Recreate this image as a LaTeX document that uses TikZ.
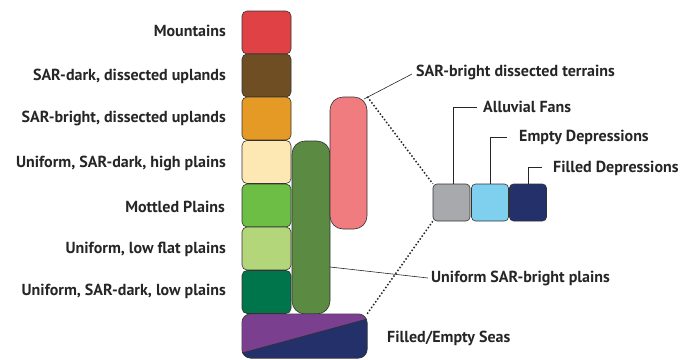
\documentclass[tikz,border=0pt]{standalone}
\usepackage{fontspec}
\setmainfont{PT Sans}
\begin{document}
\begin{tikzpicture}[x=1pt,y=-1pt,
  box/.style={draw=black!80,line width=0.6pt,rounded corners=5pt,minimum width=49pt,minimum height=43pt,inner sep=0pt},
  tall/.style={draw=black!80,line width=0.6pt,rounded corners=13pt,inner sep=0pt},
  sq/.style={draw=black!80,line width=0.6pt,rounded corners=4pt,minimum width=37pt,minimum height=37pt,inner sep=0pt},
  lbl/.style={font=\bfseries\fontsize{16}{18}\selectfont,inner sep=0pt,text=black!85},
  lead/.style={line width=0.6pt,black!85},
  dots/.style={line width=1.5pt,dotted,black!85}]
\useasboundingbox (0,0) rectangle (692,359);
\definecolor{cMount}{HTML}{E04145}
\definecolor{cDarkUp}{HTML}{6F4E23}
\definecolor{cBrightUp}{HTML}{E69A26}
\definecolor{cHigh}{HTML}{FDE8B3}
\definecolor{cMottled}{HTML}{6DBE45}
\definecolor{cLowFlat}{HTML}{B3D67B}
\definecolor{cLowDark}{HTML}{00744A}
\definecolor{cTall}{HTML}{5B8A43}
\definecolor{cPink}{HTML}{F07C80}
\definecolor{cPurple}{HTML}{7B3F8F}
\definecolor{cNavy}{HTML}{24306A}
\definecolor{cGray}{HTML}{A7A9AC}
\definecolor{cBlue}{HTML}{7FCFEE}
% left column
\node[box,fill=cMount] (b1) at (266.5,32.5) {};
\node[box,fill=cDarkUp] (b2) at (266.5,75.5) {};
\node[box,fill=cBrightUp] (b3) at (266.5,118.5) {};
\node[box,fill=cHigh] (b4) at (266.5,162) {};
\node[box,fill=cMottled] (b5) at (266.5,205.5) {};
\node[box,fill=cLowFlat] (b6) at (266.5,248.5) {};
\node[box,fill=cLowDark] (b7) at (266.5,292) {};
% tall shapes
\node[tall,fill=cTall,minimum width=38pt,minimum height=173pt] (green) at (311,227.5) {};
\node[tall,fill=cPink,minimum width=37pt,minimum height=132pt] (pink) at (348.5,163) {};
% seas
\node[minimum width=125pt,minimum height=44pt,inner sep=0pt] (seas) at (304.5,336) {};
\begin{scope}
\clip[rounded corners=9pt] (seas.north west) rectangle (seas.south east);
\fill[cPurple] (seas.north west) rectangle (seas.south east);
\fill[cNavy] (242,353) -- (367,319) -- (seas.south east) -- (seas.south west) -- cycle;
\end{scope}
\draw[black!80,line width=0.6pt,rounded corners=9pt] (seas.north west) rectangle (seas.south east);
\draw[line width=0.6pt,black!80] (242,353) -- (367,319);
% small squares
\node[sq,fill=cGray] (gray) at (451.5,202.5) {};
\node[sq,fill=cBlue] (blue) at (490,202.5) {};
\node[sq,fill=cNavy] (navy) at (528,202.5) {};
% left labels
\node[lbl,anchor=east] (l1) at (226,31) {Mountains};
\node[lbl,anchor=east] (l2) at (226,76) {SAR-dark, dissected uplands};
\node[lbl,anchor=east] (l3) at (226,118) {SAR-bright, dissected uplands};
\node[lbl,anchor=east] (l4) at (226,163) {Uniform, SAR-dark, high plains};
\node[lbl,anchor=east] (l5) at (225,207) {Mottled Plains};
\node[lbl,anchor=east] (l6) at (226,249) {Uniform, low flat plains};
\node[lbl,anchor=east] (l7) at (226,291) {Uniform, SAR-dark, low plains};
% right labels
\node[lbl,anchor=west] (tsar) at (416,72) {SAR-bright dissected terrains};
\node[lbl,anchor=west] (talluv) at (483,107) {Alluvial Fans};
\node[lbl,anchor=west] (tempty) at (519,137) {Empty Depressions};
\node[lbl,anchor=west] (tfilled) at (553,168) {Filled Depressions};
\node[lbl,anchor=west] (tplains) at (431,278) {Uniform SAR-bright plains};
\node[lbl,anchor=west] (tseas) at (387,338) {Filled/Empty Seas};
% connectors
\coordinate (pinkc) at (364,99);
\coordinate (sarend) at (412,74);
\draw[lead] (pinkc) -- (sarend);
\coordinate (alend) at (477,107);
\coordinate (emend) at (507,137);
\coordinate (fiend) at (542,167);
\draw[lead] ([xshift=1.5pt]gray.north) |- (alend);
\draw[lead] (blue.north) |- (emend);
\draw[lead] (navy.north) |- (fiend);
\coordinate (grc) at (330,267);
\coordinate (plend) at (428,278);
\draw[lead] (grc) -- (plend);
\draw[dots] (pink.north east) -- (gray.north west);
\draw[dots] (seas.north east) -- (gray.south west);
\end{tikzpicture}
\end{document}
